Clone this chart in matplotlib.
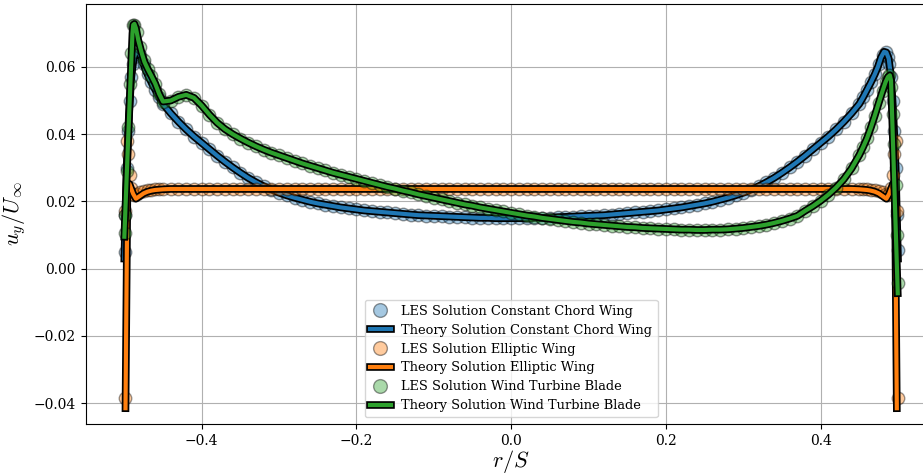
import numpy as np
import matplotlib
matplotlib.use("Agg")
import matplotlib.pyplot as plt
import matplotlib.patheffects as pe

plt.rcParams['font.family'] = 'DejaVu Serif'
plt.rcParams['mathtext.fontset'] = 'cm'

# spanwise stations shared by all three wings in the middle part
r_mid = [-0.45, -0.44, -0.43, -0.42, -0.41, -0.40, -0.39, -0.38, -0.37, -0.36,
         -0.35, -0.34, -0.33, -0.32, -0.31, -0.30, -0.29, -0.28, -0.27, -0.26,
         -0.25, -0.24, -0.23, -0.22, -0.21, -0.20, -0.19, -0.18, -0.17, -0.16,
         -0.15, -0.14, -0.13, -0.12, -0.11, -0.10, -0.09, -0.08, -0.07, -0.06,
         -0.05, -0.04, -0.03, -0.02, -0.01, 0.00, 0.01, 0.02, 0.03, 0.04,
         0.05, 0.06, 0.07, 0.08, 0.09, 0.10, 0.11, 0.12, 0.13, 0.14,
         0.15, 0.16, 0.17, 0.18, 0.19, 0.20, 0.21, 0.22, 0.23, 0.24,
         0.25, 0.26, 0.27, 0.28, 0.29, 0.30, 0.31, 0.32, 0.33, 0.34,
         0.35, 0.36, 0.37, 0.38, 0.39, 0.40, 0.41, 0.42, 0.43, 0.44, 0.45]

const_mid = [0.0490, 0.0462, 0.0437, 0.0414, 0.0393, 0.0374, 0.0355, 0.0336, 0.0318, 0.0301,
             0.0285, 0.0270, 0.0257, 0.0245, 0.0235, 0.0226, 0.0218, 0.0211, 0.0205, 0.0199,
             0.0194, 0.0190, 0.0186, 0.0182, 0.0179, 0.0176, 0.0173, 0.0171, 0.0169, 0.0167,
             0.0165, 0.0163, 0.0161, 0.0159, 0.0158, 0.0157, 0.0156, 0.0155, 0.0154, 0.0153,
             0.0152, 0.0151, 0.0151, 0.0150, 0.0150, 0.0150, 0.0150, 0.0150, 0.0151, 0.0151,
             0.0152, 0.0153, 0.0154, 0.0155, 0.0156, 0.0157, 0.0158, 0.0159, 0.0161, 0.0163,
             0.0165, 0.0167, 0.0169, 0.0171, 0.0173, 0.0176, 0.0179, 0.0182, 0.0186, 0.0190,
             0.0194, 0.0199, 0.0205, 0.0211, 0.0218, 0.0226, 0.0235, 0.0245, 0.0257, 0.0270,
             0.0285, 0.0301, 0.0318, 0.0336, 0.0355, 0.0374, 0.0393, 0.0414, 0.0437, 0.0462, 0.0490]

ellip_mid = [0.0236] + [0.0237] * 89 + [0.0236]

wind_mid = [0.0497, 0.0500, 0.0511, 0.0517, 0.0508, 0.0485, 0.0458, 0.0434, 0.0415, 0.0400,
            0.0387, 0.0375, 0.0364, 0.0354, 0.0345, 0.0337, 0.0329, 0.0321, 0.0313, 0.0306,
            0.0299, 0.0292, 0.0285, 0.0279, 0.0273, 0.0267, 0.0261, 0.0255, 0.0249, 0.0243,
            0.0238, 0.0232, 0.0227, 0.0221, 0.0216, 0.0211, 0.0206, 0.0201, 0.0196, 0.0191,
            0.0187, 0.0182, 0.0178, 0.0174, 0.0170, 0.0166, 0.0162, 0.0158, 0.0155, 0.0151,
            0.0148, 0.0145, 0.0142, 0.0139, 0.0137, 0.0134, 0.0132, 0.0130, 0.0128, 0.0126,
            0.0124, 0.0123, 0.0121, 0.0120, 0.0119, 0.0118, 0.0117, 0.0116, 0.0116, 0.0115,
            0.0115, 0.0116, 0.0116, 0.0117, 0.0119, 0.0121, 0.0124, 0.0127, 0.0131, 0.0136,
            0.0142, 0.0149, 0.0157, 0.0172, 0.0186, 0.0202, 0.0220, 0.0241, 0.0266, 0.0298, 0.0338]

# LES stations close to the tips
r_les_left = [-0.4995, -0.4985, -0.497, -0.495, -0.493, -0.491, -0.489, -0.487,
              -0.484, -0.48, -0.475, -0.47, -0.465, -0.46, -0.455]
r_les_right = [0.455, 0.46, 0.465, 0.47, 0.475, 0.48, 0.484, 0.487,
               0.489, 0.491, 0.493, 0.495, 0.497, 0.4985, 0.4995]

les_const_left = [0.005, 0.016, 0.030, 0.041, 0.050, 0.057, 0.061, 0.063,
                  0.0645, 0.0635, 0.061, 0.058, 0.0555, 0.0532, 0.051]
les_const_right = [0.051, 0.0532, 0.0555, 0.058, 0.061, 0.0635, 0.0645, 0.063,
                   0.061, 0.057, 0.050, 0.041, 0.030, 0.016, 0.0055]
les_ellip_left = [-0.0385, 0.017, 0.038, 0.034, 0.028, 0.024, 0.0222, 0.0218,
                  0.0222, 0.0228, 0.0232, 0.0234, 0.0235, 0.0236, 0.0236]
les_ellip_right = [0.0236, 0.0236, 0.0235, 0.0234, 0.0232, 0.0228, 0.0222, 0.0218,
                   0.0222, 0.024, 0.028, 0.034, 0.038, 0.017, -0.0385]
les_wind_left = [0.0105, 0.016, 0.029, 0.042, 0.055, 0.064, 0.0725, 0.0725,
                 0.0705, 0.066, 0.062, 0.0595, 0.0573, 0.055, 0.052]
les_wind_right = [0.0362, 0.0388, 0.042, 0.0455, 0.0492, 0.0528, 0.0555, 0.057,
                  0.0575, 0.054, 0.046, 0.037, 0.025, 0.010, -0.0043]

# theory near the tips
r_th_const_left = [-0.5, -0.497, -0.494, -0.491, -0.488, -0.485, -0.482, -0.478,
                   -0.474, -0.47, -0.465, -0.46, -0.455]
th_const_left = [0.003, 0.030, 0.046, 0.057, 0.0625, 0.0643, 0.0645, 0.0628,
                 0.060, 0.0578, 0.0554, 0.0532, 0.0510]
r_th_const_right = [0.455, 0.46, 0.465, 0.47, 0.474, 0.478, 0.482, 0.485,
                    0.488, 0.491, 0.494, 0.497, 0.5]
th_const_right = [0.0510, 0.0532, 0.0554, 0.0578, 0.060, 0.0628, 0.0645, 0.0643,
                  0.0625, 0.057, 0.046, 0.030, 0.003]

r_th_ellip_left = [-0.4985, -0.496, -0.4935, -0.4885, -0.485, -0.48, -0.475, -0.47,
                   -0.465, -0.46, -0.455]
th_ellip_left = [-0.0415, 0.0253, 0.0252, 0.0222, 0.0208, 0.0216, 0.0224, 0.0229,
                 0.0232, 0.0234, 0.0235]
r_th_ellip_right = [0.455, 0.46, 0.465, 0.47, 0.475, 0.48, 0.485, 0.4885,
                    0.4935, 0.496, 0.4985]
th_ellip_right = [0.0235, 0.0234, 0.0232, 0.0229, 0.0224, 0.0216, 0.0208, 0.0222,
                  0.0252, 0.0253, -0.0415]

r_th_wind_left = [-0.5, -0.4955, -0.492, -0.4895, -0.4885, -0.487, -0.485, -0.482,
                  -0.478, -0.474, -0.47, -0.465, -0.46, -0.455]
th_wind_left = [0.0095, 0.036, 0.056, 0.070, 0.0725, 0.0728, 0.0715, 0.068,
                0.0645, 0.0615, 0.0595, 0.0573, 0.0550, 0.0520]
r_th_wind_right = [0.455, 0.46, 0.465, 0.47, 0.475, 0.48, 0.484, 0.487,
                   0.4895, 0.491, 0.4997]
th_wind_right = [0.0362, 0.0388, 0.0420, 0.0455, 0.0492, 0.0528, 0.0555, 0.0570,
                 0.0575, 0.0560, -0.0073]

labels = ['Constant Chord Wing', 'Elliptic Wing', 'Wind Turbine Blade']
colors = ['C0', 'C1', 'C2']

les_r = r_les_left + r_mid + r_les_right
les = [les_const_left + const_mid + les_const_right,
       les_ellip_left + ellip_mid + les_ellip_right,
       les_wind_left + wind_mid + les_wind_right]
th_r = [r_th_const_left + r_mid + r_th_const_right,
        r_th_ellip_left + r_mid + r_th_ellip_right,
        r_th_wind_left + r_mid + r_th_wind_right]
th = [th_const_left + const_mid + th_const_right,
      th_ellip_left + ellip_mid + th_ellip_right,
      th_wind_left + wind_mid + th_wind_right]

fig = plt.figure(figsize=(9.23, 4.74), dpi=100)
ax = fig.add_axes([0.0928, 0.1055, 0.922, 0.886])

for i in range(3):
    ax.plot(les_r, les[i], 'o', ms=9, color=colors[i], mec='k', alpha=0.4,
            label=f'LES Solution {labels[i]}')
    ax.plot(th_r[i], th[i], '-', lw=3, color=colors[i],
            path_effects=[pe.Stroke(linewidth=5.5, foreground='k'), pe.Normal()],
            label=f'Theory Solution {labels[i]}')

ax.set_xlim(-0.55, 0.55)
ax.set_ylim(-0.0462, 0.0787)
ax.set_xticks([-0.4, -0.2, 0.0, 0.2, 0.4])
ax.set_yticks([-0.04, -0.02, 0.00, 0.02, 0.04, 0.06])
ax.tick_params(axis='both', labelsize=10)
ax.grid(True)
ax.set_xlabel(r'$r/S$', fontsize=16, labelpad=0)
ax.set_ylabel(r'$u_y/U_\infty$', fontsize=16)
ax.legend(loc='lower center', fontsize=9.4, labelspacing=0.45, handlelength=1.6,
          markerscale=1.1)

fig.savefig('out.png', dpi=100)
